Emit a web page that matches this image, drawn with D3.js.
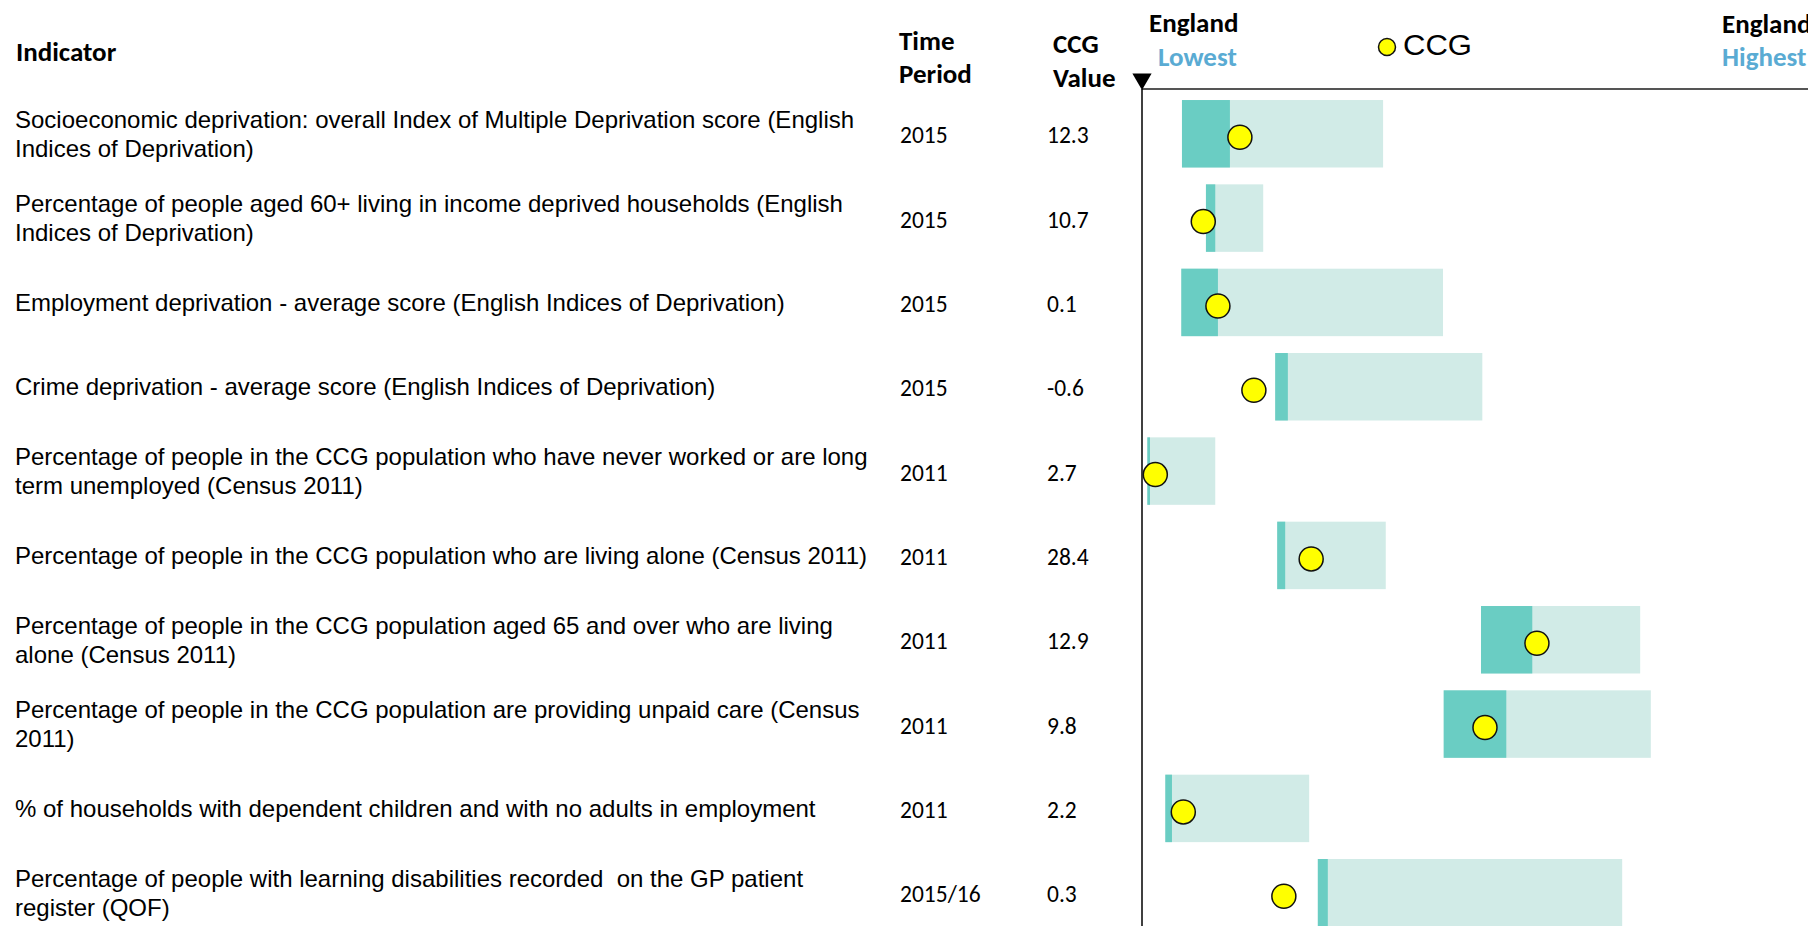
<!DOCTYPE html>
<html>
<head>
<meta charset="utf-8">
<script src="https://cdn.jsdelivr.net/npm/d3@7"></script>
<style>
  body { margin: 0; background: #fff; }
  #main-container { width: 1808px; height: 926px; }
</style>
</head>
<body>
<div id="main-container"></div>
<script>

// indicator labels, already split into lines as in the source table
var indicators = [
    ["Socioeconomic deprivation: overall Index of Multiple Deprivation score (English", "Indices of Deprivation)"],
    ["Percentage of people aged 60+ living in income deprived households (English", "Indices of Deprivation)"],
    ["Employment deprivation - average score (English Indices of Deprivation)"],
    ["Crime deprivation - average score (English Indices of Deprivation)"],
    ["Percentage of people in the CCG population who have never worked or are long", "term unemployed (Census 2011)"],
    ["Percentage of people in the CCG population who are living alone (Census 2011)"],
    ["Percentage of people in the CCG population aged 65 and over who are living", "alone (Census 2011)"],
    ["Percentage of people in the CCG population are providing unpaid care (Census", "2011)"],
    ["% of households with dependent children and with no adults in employment"],
    ["Percentage of people with learning disabilities recorded  on the GP patient", "register (QOF)"]
];
var timePeriods = ["2015", "2015", "2015", "2015", "2011", "2011", "2011", "2011", "2011", "2015/16"];
var ccgValues = ["12.3", "10.7", "0.1", "-0.6", "2.7", "28.4", "12.9", "9.8", "2.2", "0.3"];

// spine positions, 0 = England lowest ... 100 = England highest
var barStart = [6.0, 9.6, 5.9, 20.0, 0.8, 20.3, 50.9, 45.3, 3.5, 26.4];
var darkEnd  = [13.2, 11.0, 11.4, 21.9, 1.2, 21.5, 58.6, 54.7, 4.5, 27.9];
var barEnd   = [36.2, 18.2, 45.2, 51.1, 11.0, 36.6, 74.8, 76.4, 25.1, 72.1];
var ccgMark  = [14.7, 9.2, 11.4, 16.8, 2.0, 25.4, 59.3, 51.5, 6.2, 21.3];

var W = 1808, H = 926;
var textFont = "'Liberation Sans', Arial, sans-serif";
var headFont = "Carlito, Calibri, 'Open Sans', sans-serif";

var svg = d3.select("div#main-container")
            .append("svg")
            .attr("width", W)
            .attr("height", H);

var idx = d3.range(indicators.length);

var x = d3.scaleLinear().domain([0, 100]).range([1142, 1808]);
var y = d3.scaleBand().domain(idx).range([91.6, 934.9])
          .paddingInner(0.2).paddingOuter(0.1);

// light bar (full range)
svg.selectAll("rect.light")
    .data(idx).enter().append("rect")
    .attr("class", "light")
    .attr("x", function(i) { return x(barStart[i]); })
    .attr("y", function(i) { return y(i); })
    .attr("width", function(i) { return x(barEnd[i]) - x(barStart[i]); })
    .attr("height", y.bandwidth())
    .attr("fill", "#d1ebe7");

// dark part
svg.selectAll("rect.dark")
    .data(idx).enter().append("rect")
    .attr("class", "dark")
    .attr("x", function(i) { return x(barStart[i]); })
    .attr("y", function(i) { return y(i); })
    .attr("width", function(i) { return x(darkEnd[i]) - x(barStart[i]); })
    .attr("height", y.bandwidth())
    .attr("fill", "#6acdc3");

// axes lines
svg.append("line")
    .attr("x1", x(0)).attr("x2", W)
    .attr("y1", 89).attr("y2", 89)
    .attr("stroke", "#555").attr("stroke-width", 2);
svg.append("line")
    .attr("x1", x(0)).attr("x2", x(0))
    .attr("y1", 89).attr("y2", H)
    .attr("stroke", "#000").attr("stroke-width", 1.5);
svg.append("path")
    .attr("d", d3.symbol().type(d3.symbolTriangle).size(160))
    .attr("transform", "translate(" + x(0) + ",79) rotate(180)")
    .attr("fill", "#000");

// CCG markers
svg.selectAll("circle.ccg")
    .data(idx).enter().append("circle")
    .attr("class", "ccg")
    .attr("cx", function(i) { return x(ccgMark[i]); })
    .attr("cy", function(i) { return y(i) + y.bandwidth() / 2 + 3.5; })
    .attr("r", 12)
    .attr("fill", "#ffff00")
    .attr("stroke", "#111")
    .attr("stroke-width", 1.5);

// indicator labels
var lab = svg.selectAll("text.ind")
    .data(idx).enter().append("text")
    .attr("class", "ind")
    .attr("x", 15)
    .attr("font-family", textFont)
    .attr("font-size", "24px")
    .attr("fill", "#000")
    .style("white-space", "pre");
lab.selectAll("tspan")
    .data(function(i) {
        var lines = indicators[i];
        return lines.map(function(t, k) {
            return { t: t, cy: y(i) + y.bandwidth() / 2 + (k - (lines.length - 1) / 2) * 29 };
        });
    })
    .enter().append("tspan")
    .attr("x", 15)
    .attr("y", function(d) { return d.cy; })
    .attr("dy", "0.35em")
    .text(function(d) { return d.t; });

svg.selectAll("text.period")
    .data(idx).enter().append("text")
    .attr("class", "period")
    .attr("x", 900)
    .attr("y", function(i) { return y(i) + y.bandwidth() / 2 + 1.5; })
    .attr("dy", "0.35em")
    .attr("font-family", headFont)
    .attr("font-size", "23.5px")
    .text(function(i) { return timePeriods[i]; });

svg.selectAll("text.val")
    .data(idx).enter().append("text")
    .attr("class", "val")
    .attr("x", 1047)
    .attr("y", function(i) { return y(i) + y.bandwidth() / 2 + 1.5; })
    .attr("dy", "0.35em")
    .attr("font-family", headFont)
    .attr("font-size", "23.5px")
    .text(function(i) { return ccgValues[i]; });

// headers
function head(txt, tx, ty, col) {
    svg.append("text")
        .attr("x", tx).attr("y", ty)
        .attr("font-family", headFont)
        .attr("font-weight", "bold")
        .attr("font-size", "27px")
        .attr("fill", col || "#000")
        .text(txt);
}
head("Indicator", 16, 61);
head("Time", 899, 50);
head("Period", 899, 83);
head("CCG", 1053, 53);
head("Value", 1053, 87);
head("England", 1149, 32);
head("Lowest", 1158, 66, "#5aabd3");
head("England", 1722, 33);
head("Highest", 1722, 66, "#5aabd3");

// legend
svg.append("circle")
    .attr("cx", 1387).attr("cy", 47).attr("r", 8.5)
    .attr("fill", "#ffff00").attr("stroke", "#111").attr("stroke-width", 1.5);
svg.append("text")
    .attr("x", 1403).attr("y", 55)
    .attr("font-family", textFont)
    .attr("font-size", "29px")
    .attr("textLength", 69)
    .attr("lengthAdjust", "spacingAndGlyphs")
    .attr("fill", "#000")
    .text("CCG");
</script>
</body>
</html>
